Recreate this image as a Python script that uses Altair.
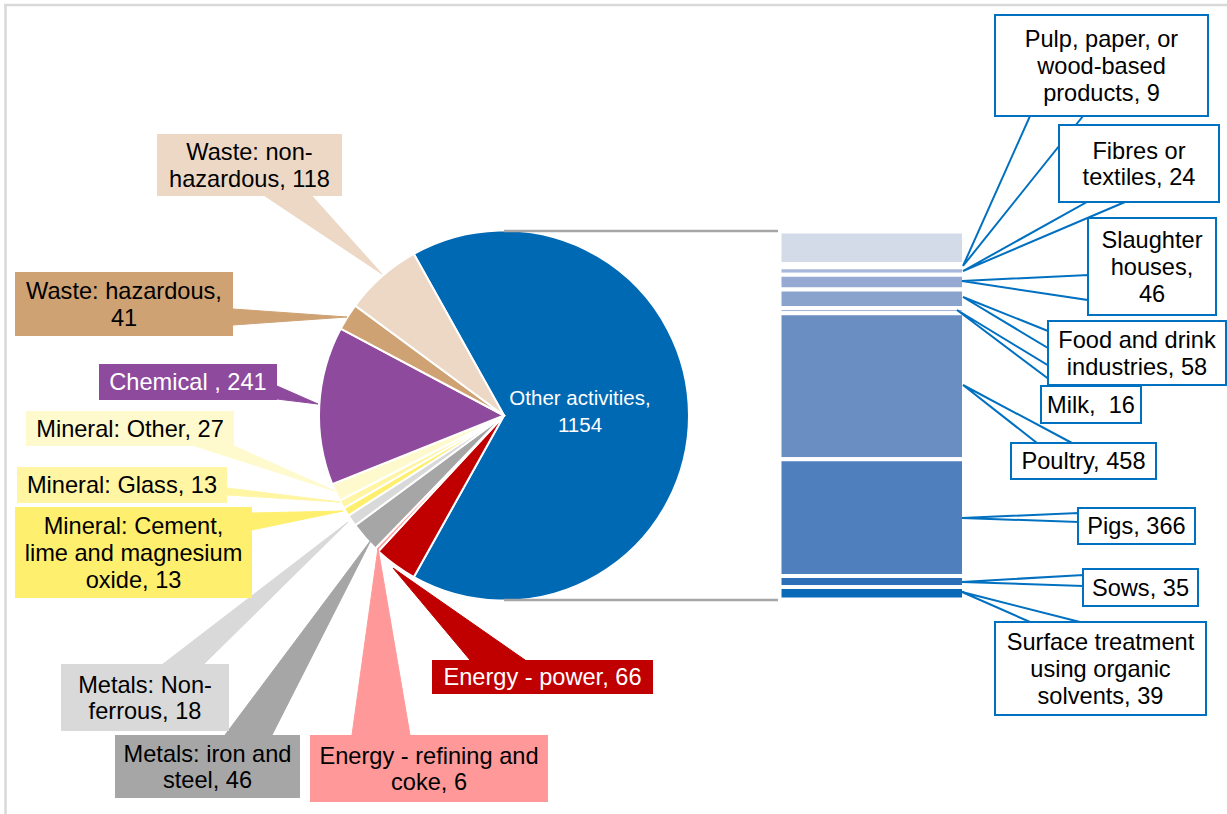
import math
import altair as alt
import pandas as pd

# ---------------- data ----------------
pie_names = ["Other activities", "Energy - power", "Energy - refining and coke",
             "Metals: iron and steel", "Metals: Non-ferrous",
             "Mineral: Cement, lime and magnesium oxide", "Mineral: Glass",
             "Mineral: Other", "Chemical", "Waste: hazardous", "Waste: non-hazardous"]
pie_values = [1154, 66, 6, 46, 18, 13, 13, 27, 241, 41, 118]
pie_labels = ["Other activities,\n{v}", "Energy - power, {v}", "Energy - refining and\ncoke, {v}",
              "Metals: iron and\nsteel, {v}", "Metals: Non-\nferrous, {v}",
              "Mineral: Cement,\nlime and magnesium\noxide, {v}", "Mineral: Glass, {v}",
              "Mineral: Other, {v}", "Chemical , {v}", "Waste: hazardous,\n{v}",
              "Waste: non-\nhazardous, {v}"]

# breakdown of "Other activities" (first entry: remainder without a label)
bar_names = ["Other (unlabelled)", "Pulp, paper, or wood-based products", "Fibres or textiles",
             "Slaughter houses", "Food and drink industries", "Milk", "Poultry", "Pigs",
             "Sows", "Surface treatment using organic solvents"]
bar_values = [103, 9, 24, 46, 58, 16, 458, 366, 35, 39]
bar_labels = ["", "Pulp, paper, or\nwood-based\nproducts, {v}", "Fibres or\ntextiles, {v}",
              "Slaughter\nhouses,\n{v}", "Food and drink\nindustries, {v}", "Milk,\u00a0 {v}",
              "Poultry, {v}", "Pigs, {v}", "Sows, {v}",
              "Surface treatment\nusing organic\nsolvents, {v}"]

# ---------------- styles ----------------
pie_colors = ["#0069b4", "#c00000", "#ff9999", "#a6a6a6", "#d9d9d9", "#ffef6e",
              "#fff5a3", "#fffacd", "#8e4a9c", "#cfa274", "#ecd8c5"]
pie_text_colors = ["white", "white", "black", "black", "black", "black", "black",
                   "black", "white", "black", "black"]
bar_colors = ["#d3dae8", "#b4c1de", "#a9b8da", "#95a9d2", "#8aa3cd", "#a5b5d9",
              "#6a8dc2", "#4f7fbd", "#2e70b8", "#0a6ab8"]
BLUE = "#0070c0"
FONT = "Liberation Sans"
FS = 23.6
FS_INNER = 20.5
LH = 26.7
CAP = 8.4

# ---------------- layout ----------------
W, H = 1227, 814
CX, CY, R = 504, 415.5, 185
BAR_X1, BAR_X2 = 779.5, 964
BAR_TOP, BAR_BOT = 231.5, 599.5

# pie callouts: index -> (box x1, y1, x2, y2), (pointer base1, base2, tip)
left_boxes = {
    10: ((157, 134, 342, 196), ((265, 196), (312, 196), (382, 274))),
    9: ((15, 272, 233, 336), ((233, 309), (233, 325), (347, 317))),
    8: ((99, 364, 277, 400), ((277, 386), (277, 399), (318, 404))),
    7: ((26, 411, 234, 446), ((195, 446), (234, 446), (335, 491))),
    6: ((17, 467, 227, 503), ((227, 488), (227, 495), (340, 502))),
    5: ((15, 507, 252, 598), ((252, 513), (252, 530), (343, 511))),
    4: ((61, 664, 229, 731), ((163, 664), (204, 664), (348, 522))),
    3: ((115, 735, 300, 798), ((225, 735), (272, 735), (371, 540))),
    2: ((310, 735, 548, 802), ((352, 735), (410, 735), (378, 548))),
    1: ((432, 660, 653, 694), ((470, 660), (525, 660), (393, 568))),
}
other_label_center = (580, 411)

right_boxes = {
    1: ((995, 15, 1208, 116), ((1030, 116), (1083, 116), (963, 266))),
    2: ((1059, 125, 1219, 202), ((1087, 202), (1125, 202), (963, 271))),
    3: ((1088, 218, 1216, 315), ((1088, 275), (1088, 300), (962, 281))),
    4: ((1048, 321, 1226, 385), ((1048, 331), (1048, 348), (963, 297))),
    5: ((1041, 386, 1141, 423), ((1058, 386), (1082, 386), (957, 310))),
    6: ((1011, 443, 1156, 479), ((1037, 443), (1072, 443), (963, 385))),
    7: ((1078, 508, 1195, 544), ((1078, 513), (1078, 522), (962, 518))),
    8: ((1083, 569, 1198, 606), ((1083, 575), (1083, 586), (962, 582))),
    9: ((995, 622, 1206, 715), ((1030, 622), (1080, 622), (962, 592))),
}

# ---------------- tables ----------------
pie_df = pd.DataFrame({"name": pie_names, "value": pie_values, "col": pie_colors,
                       "ord": list(range(len(pie_names)))})
bar_df = pd.DataFrame({"name": bar_names, "value": bar_values, "col": bar_colors,
                       "ord": list(range(len(bar_names)))})


def text_rows(cx, cy, txt, color, size=FS):
    n = txt.count("\n") + 1
    return {"tx": cx, "ty": cy - (n - 1) / 2 * LH + CAP * size / FS, "txt": txt,
            "tc": color, "fs": size}


lbox, lptr, ltxt = [], [], []
for i, (box, ptr) in left_boxes.items():
    x1, y1, x2, y2 = box
    lbox.append({"x1": x1, "y1": y1, "x2": x2, "y2": y2, "fc": pie_colors[i]})
    for k, (px, py) in enumerate(ptr):
        lptr.append({"id": i, "k": k, "px": px, "py": py, "fc": pie_colors[i]})
    ltxt.append(text_rows((x1 + x2) / 2, (y1 + y2) / 2,
                          pie_labels[i].format(v=pie_values[i]), pie_text_colors[i]))
ltxt.append(text_rows(other_label_center[0], other_label_center[1],
                      pie_labels[0].format(v=pie_values[0]), pie_text_colors[0], FS_INNER))

rbox, rptr, rtxt = [], [], []
for i, (box, ptr) in right_boxes.items():
    x1, y1, x2, y2 = box
    rbox.append({"x1": x1, "y1": y1, "x2": x2, "y2": y2})
    for k, (px, py) in enumerate(ptr):
        rptr.append({"id": i, "k": k, "px": px, "py": py})
    rtxt.append(text_rows((x1 + x2) / 2, (y1 + y2) / 2,
                          bar_labels[i].format(v=bar_values[i]), "black"))

txt_df = pd.DataFrame(ltxt + rtxt)
conn_df = pd.DataFrame({"x1": [CX, CX], "x2": [BAR_X1 - 1.5, BAR_X1 - 1.5],
                        "y": [CY - R + 0.5, CY + R - 0.5]})
frame_df = pd.DataFrame({"x1": [4, 5.5], "x2": [W, 5.5], "y1": [5, 4], "y2": [5, H]})

xs = alt.Scale(domain=[0, W], range=[0, W], nice=False, zero=False)
ys = alt.Scale(domain=[0, H], range=[0, H], nice=False, zero=False)

# ---------------- layers ----------------
frame = alt.Chart(frame_df).mark_rule(color="#d9d9d9", strokeWidth=2.5).encode(
    x=alt.X("x1:Q", scale=xs, axis=None), x2="x2:Q",
    y=alt.Y("y1:Q", scale=ys, axis=None), y2="y2:Q")

start = math.pi / 2 - math.pi * pie_values[0] / sum(pie_values) + 2 * math.pi
pie = alt.Chart(pie_df).mark_arc(radius=R, stroke="white", strokeWidth=2).encode(
    theta=alt.Theta("value:Q", stack=True,
                    scale=alt.Scale(range=[start, start + 2 * math.pi])),
    order=alt.Order("ord:Q"),
    color=alt.Color("col:N", scale=None),
    x=alt.value(CX), y=alt.value(CY))

bar = alt.Chart(bar_df).transform_window(
    end="sum(value)", sort=[alt.SortField("ord")]
).transform_calculate(start="datum.end - datum.value").mark_rect(
    stroke="white", strokeWidth=4).encode(
    x=alt.value(BAR_X1), x2=alt.value(BAR_X2),
    y=alt.Y("start:Q", scale=alt.Scale(domain=[0, sum(bar_values)],
                                       range=[BAR_TOP, BAR_BOT], nice=False, zero=False),
            axis=None),
    y2="end:Q",
    color=alt.Color("col:N", scale=None))

conn = alt.Chart(conn_df).mark_rule(color="#a6a6a6", strokeWidth=2.5).encode(
    x=alt.X("x1:Q", scale=xs, axis=None), x2="x2:Q",
    y=alt.Y("y:Q", scale=ys, axis=None))

lpointers = alt.Chart(pd.DataFrame(lptr)).mark_line(
    interpolate="linear-closed", strokeWidth=1).encode(
    x=alt.X("px:Q", scale=xs, axis=None), y=alt.Y("py:Q", scale=ys, axis=None),
    detail="id:N", order="k:Q",
    fill=alt.Fill("fc:N", scale=None), stroke=alt.Stroke("fc:N", scale=None))

lboxes = alt.Chart(pd.DataFrame(lbox)).mark_rect().encode(
    x=alt.X("x1:Q", scale=xs, axis=None), x2="x2:Q",
    y=alt.Y("y1:Q", scale=ys, axis=None), y2="y2:Q",
    color=alt.Color("fc:N", scale=None))

rpointers = alt.Chart(pd.DataFrame(rptr)).mark_line(
    interpolate="linear-closed", strokeWidth=2).encode(
    x=alt.X("px:Q", scale=xs, axis=None), y=alt.Y("py:Q", scale=ys, axis=None),
    detail="id:N", order="k:Q",
    fill=alt.value("white"), stroke=alt.value(BLUE))

rboxes = alt.Chart(pd.DataFrame(rbox)).mark_rect(
    fill="white", stroke=BLUE, strokeWidth=2).encode(
    x=alt.X("x1:Q", scale=xs, axis=None), x2="x2:Q",
    y=alt.Y("y1:Q", scale=ys, axis=None), y2="y2:Q")

texts = alt.Chart(txt_df).mark_text(
    align="center", baseline="alphabetic", lineBreak="\n", lineHeight=LH,
    font=FONT).encode(
    x=alt.X("tx:Q", scale=xs, axis=None), y=alt.Y("ty:Q", scale=ys, axis=None),
    text="txt:N", color=alt.Color("tc:N", scale=None),
    size=alt.Size("fs:Q", scale=None))

chart = alt.layer(
    frame, pie, bar, conn, lpointers, lboxes, rpointers, rboxes, texts
).resolve_scale(y="independent").properties(
    width=W, height=H, padding=0, autosize=alt.AutoSizeParams(type="none"),
    background="white"
).configure_view(strokeWidth=0)

chart.save("out.html", embed_options={"renderer": "svg", "actions": False})
